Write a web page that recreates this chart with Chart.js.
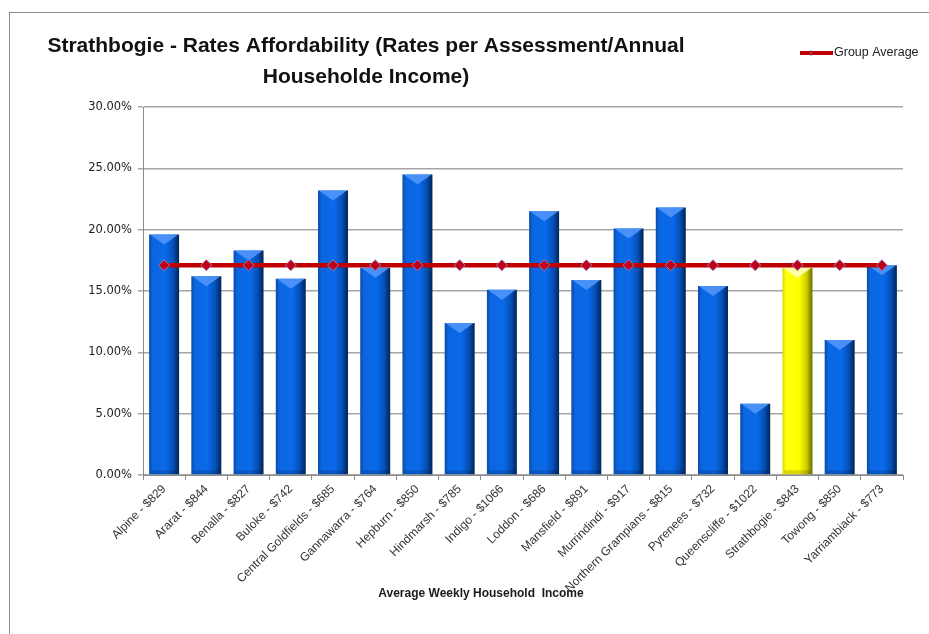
<!DOCTYPE html>
<html>
<head>
<meta charset="utf-8">
<script src="https://cdn.jsdelivr.net/npm/chart.js@4.4.0/dist/chart.umd.min.js"></script>
<style>
  body { margin: 0; background: #fff; overflow: hidden; }
  #wrap { position: relative; width: 929px; height: 634px; overflow: hidden; }
  #frame { position: absolute; left: 9px; top: 12px; width: 1000px; height: 700px; border: 1px solid #8c8c8c; box-sizing: border-box; pointer-events: none; }
  canvas { position: absolute; left: 0; top: 0; }
</style>
</head>
<body>
<div id="wrap">
  <canvas id="affordability" width="929" height="634"></canvas>
  <div id="frame"></div>
</div>
<script>
const councils = ["Alpine - $829", "Ararat - $844", "Benalla - $827", "Buloke - $742",
  "Central Goldfields - $685", "Gannawarra - $764", "Hepburn - $850", "Hindmarsh - $785",
  "Indigo - $1066", "Loddon - $686", "Mansfield - $891", "Murrindindi - $917",
  "Northern Grampians - $815", "Pyrenees - $732", "Queenscliffe - $1022",
  "Strathbogie - $843", "Towong - $850", "Yarriambiack - $773"];
const affordability = [19.6, 16.2, 18.3, 16.0, 23.2, 16.9, 24.5, 12.4, 15.1, 21.5,
  15.9, 20.1, 21.8, 15.4, 5.8, 16.9, 11.0, 17.1];
const groupAverage = [17.1, 17.1, 17.1, 17.1, 17.1, 17.1, 17.1, 17.1, 17.1, 17.1,
  17.1, 17.1, 17.1, 17.1, 17.1, 17.1, 17.1, 17.1];
const highlight = "Strathbogie - $843";
const titleLines = ["Strathbogie - Rates Affordability (Rates per Assessment/Annual", "Householde Income)"];
const xTitle = "Average Weekly Household  Income";
const barPct = 0.71;

// horizontal gradient so the bars look like rounded columns
function barFill(context) {
  const chart = context.chart;
  const xs = chart.scales.x;
  const isHighlight = councils[context.dataIndex] === highlight;
  if (!xs || !chart.chartArea) return isHighlight ? "#ffff00" : "#0a6ae8";
  const cx = xs.getPixelForValue(context.dataIndex);
  const w = (chart.chartArea.width / councils.length) * barPct;
  const g = chart.ctx.createLinearGradient(cx - w / 2, 0, cx + w / 2, 0);
  if (isHighlight) {
    g.addColorStop(0, "#d8d800");
    g.addColorStop(0.12, "#ffff10");
    g.addColorStop(0.55, "#ffff00");
    g.addColorStop(0.8, "#d0d000");
    g.addColorStop(1, "#6a6a00");
  } else {
    g.addColorStop(0, "#0a4aa8");
    g.addColorStop(0.12, "#0b66e0");
    g.addColorStop(0.55, "#0a6aea");
    g.addColorStop(0.8, "#0550b8");
    g.addColorStop(1, "#022454");
  }
  return g;
}

// lighter bevel at the top of each bar, darker foot
const barBevel = {
  id: "barBevel",
  afterDatasetDraw(chart, args) {
    if (args.index !== 0) return;
    const c = chart.ctx;
    c.save();
    args.meta.data.forEach((el, i) => {
      const l = el.x - el.width / 2, r = el.x + el.width / 2, t = el.y;
      c.fillStyle = councils[i] === highlight ? "rgba(255,255,190,0.9)" : "rgba(80,150,250,0.9)";
      c.beginPath();
      c.moveTo(l + 1, t);
      c.lineTo(r - 1, t);
      c.lineTo(r - 5, t + 3);
      c.lineTo(el.x, t + 10);
      c.lineTo(l + 5, t + 3);
      c.closePath();
      c.fill();
      c.fillStyle = "rgba(0,0,0,0.15)";
      c.fillRect(l + 2, el.base - 4, el.width - 4, 4);
    });
    c.restore();
  }
};

// title, legend and axis title, drawn where the reference has them
const decorations = {
  id: "decorations",
  afterDraw(chart) {
    const c = chart.ctx;
    c.save();
    c.fillStyle = "#111";
    c.textAlign = "center";
    c.textBaseline = "middle";
    let size = 21;
    c.font = "bold " + size + "px 'Liberation Sans'";
    while (c.measureText(titleLines[0]).width > 673 && size > 10) {
      size -= 0.5;
      c.font = "bold " + size + "px 'Liberation Sans'";
    }
    c.fillText(titleLines[0], 366, 46);
    c.fillText(titleLines[1], 366, 77);

    // legend
    c.strokeStyle = "#c00000";
    c.lineWidth = 4;
    c.beginPath();
    c.moveTo(800, 53);
    c.lineTo(833, 53);
    c.stroke();
    c.strokeStyle = "#8a6aa0";
    c.lineWidth = 1;
    c.beginPath();
    c.moveTo(811, 50);
    c.lineTo(811, 56);
    c.stroke();
    c.fillStyle = "#222";
    c.textAlign = "left";
    c.font = "12.5px 'Liberation Sans'";
    c.fillText("Group Average", 834, 53);

    // x axis title
    c.textAlign = "center";
    c.fillStyle = "#1a1a1a";
    c.font = "bold 12px 'Liberation Sans'";
    c.fillText(xTitle, 481, 594);
    c.restore();
  }
};

new Chart(document.getElementById("affordability"), {
  type: "bar",
  data: {
    labels: councils,
    datasets: [
      {
        type: "bar",
        label: "Rates Affordability",
        data: affordability,
        backgroundColor: barFill,
        borderWidth: 0,
        barPercentage: barPct,
        categoryPercentage: 1.0,
        order: 2
      },
      {
        type: "line",
        label: "Group Average",
        data: groupAverage,
        borderColor: "#c00000",
        borderWidth: 4.5,
        pointStyle: "rectRot",
        pointRadius: 5.5,
        pointBackgroundColor: "#c0001a",
        pointBorderColor: "#a07ab0",
        pointBorderWidth: 1,
        tension: 0,
        order: 1
      }
    ]
  },
  options: {
    responsive: false,
    animation: false,
    layout: { padding: { left: 20, right: 26, top: 107, bottom: 20 } },
    plugins: {
      legend: { display: false },
      title: { display: false },
      tooltip: { enabled: false }
    },
    scales: {
      x: {
        grid: { offset: true, drawOnChartArea: false, drawTicks: true, tickLength: 5, color: "#8c8c8c" },
        border: { color: "#8c8c8c", width: 1 },
        ticks: {
          minRotation: 45,
          maxRotation: 45,
          autoSkip: false,
          color: "#333",
          padding: 2,
          font: { family: "'Liberation Sans'", size: 12 }
        },
        afterFit(scale) { scale.height = 634 - 475 - 20; }
      },
      y: {
        min: 0,
        max: 30,
        ticks: {
          stepSize: 5,
          color: "#222",
          padding: 6,
          font: { family: "'DejaVu Sans'", size: 11.5 },
          callback: (v) => v.toFixed(2) + "%"
        },
        grid: { color: "#a6a6a6", lineWidth: 1.5, tickLength: 5, drawTicks: true },
        border: { color: "#8c8c8c", width: 1 },
        afterFit(scale) { scale.width = 143 - 20; }
      }
    }
  },
  plugins: [barBevel, decorations]
});
</script>
</body>
</html>
